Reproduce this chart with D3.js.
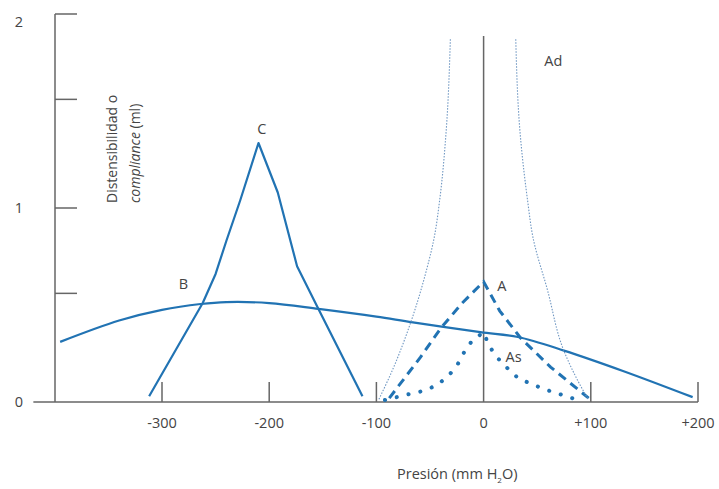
<!DOCTYPE html>
<html>
<head>
<meta charset="utf-8">
<script src="https://cdn.jsdelivr.net/npm/d3@7"></script>
<style>
  body { margin: 0; background: #fff; }
  text { font-family: "Open Sans", sans-serif; fill: #444; }
</style>
</head>
<body>
<svg id="chart"></svg>
<script>
const WIDTH = 719;
const HEIGHT = 489;
const BLUE = "#2173b3";

const xTicks = [-300, -200, -100, 0, 100, 200];
const xTickLabels = ["-300", "-200", "-100", "0", "+100", "+200"];
const yTicks = [0, 0.56, 1, 1.56, 2];
const yTickLabels = ["0", "", "1", "", "2"];

// curve B: broad solid curve
const curveB = [
  [-395, 0.31], [-340, 0.42], [-300, 0.475], [-264, 0.505], [-240, 0.515],
  [-200, 0.51], [-154, 0.48], [-100, 0.44], [-66, 0.41], [-3, 0.36],
  [32, 0.335], [75, 0.265], [130, 0.16], [195, 0.025],
];
// curve C: sharp peak
const curveC = [
  [-312, 0.03], [-262, 0.51], [-250, 0.66], [-240, 0.83], [-227, 1.04],
  [-210, 1.335], [-192, 1.08], [-174, 0.7], [-155, 0.49], [-113, 0.03],
];
// curve A: dashed
const curveA = [
  [-88, 0.02], [-59, 0.23], [-40, 0.38], [-20, 0.51], [0, 0.62],
  [15, 0.47], [34.5, 0.33], [62.5, 0.18], [98, 0.02],
];
// curve As: dotted
const curveAs = [
  [-92, 0.01], [-70, 0.04], [-56, 0.057], [-43, 0.088], [-32, 0.14],
  [-24, 0.196], [-18, 0.258], [-11, 0.314], [0, 0.36], [5, 0.29],
  [13, 0.227], [23, 0.17], [33, 0.119], [45, 0.093], [56, 0.067],
  [68, 0.046], [79, 0.026], [91, 0.005],
];
// curve Ad: thin dotted, two branches (top to bottom)
const curveAdLeft = [
  [-31, 1.87], [-35, 1.39], [-41, 1.04], [-46, 0.85], [-54, 0.665],
  [-68, 0.41], [-85, 0.165], [-98, 0.01],
];
const curveAdRight = [
  [30, 1.87], [34, 1.39], [41, 1.04], [46, 0.85], [59.6, 0.577],
  [74.6, 0.268], [90, 0.088], [98, 0.01],
];

const curveLabels = ["B", "C", "A", "As", "Ad"];
const curveLabelAt = [[-280, 0.61], [-207, 1.41], [17, 0.6], [28, 0.23], [65, 1.76]];

const svg = d3.select("#chart").attr("width", WIDTH).attr("height", HEIGHT);

const x = d3.scaleLinear().domain([-300, 200]).range([162, 698]);
const y = d3.scaleLinear().domain([0, 2]).range([402, 14]);

const axisColor = "#666";

/* axes */
svg.append("line")
  .attr("x1", x(-420)).attr("x2", x(200))
  .attr("y1", y(0)).attr("y2", y(0))
  .attr("stroke", axisColor).attr("stroke-width", 1.5);
svg.append("line")
  .attr("x1", 55).attr("x2", 55)
  .attr("y1", y(2)).attr("y2", y(0))
  .attr("stroke", axisColor).attr("stroke-width", 1.5);
// vertical line at zero pressure
svg.append("line")
  .attr("x1", x(0)).attr("x2", x(0))
  .attr("y1", 36).attr("y2", y(0))
  .attr("stroke", axisColor).attr("stroke-width", 1.5);

svg.selectAll(".xtick")
  .data(xTicks.filter((d) => d !== 0))
  .enter().append("line")
  .attr("x1", (d) => x(d)).attr("x2", (d) => x(d))
  .attr("y1", y(0)).attr("y2", y(0) - 20)
  .attr("stroke", axisColor).attr("stroke-width", 1.5);

svg.selectAll(".xlabel")
  .data(xTicks)
  .enter().append("text")
  .attr("x", (d) => x(d))
  .attr("y", 428)
  .attr("text-anchor", "middle")
  .attr("font-size", 14.5)
  .text((d, i) => xTickLabels[i]);

svg.selectAll(".ytick")
  .data(yTicks.filter((d) => d !== 0))
  .enter().append("line")
  .attr("x1", 55).attr("x2", 77)
  .attr("y1", (d) => y(d)).attr("y2", (d) => y(d))
  .attr("stroke", axisColor).attr("stroke-width", 1.5);

svg.selectAll(".ylabel")
  .data(yTicks)
  .enter().append("text")
  .attr("x", 19)
  .attr("y", (d) => Math.max(y(d), 22))
  .attr("dy", "0.35em")
  .attr("text-anchor", "middle")
  .attr("font-size", 14.5)
  .text((d, i) => yTickLabels[i]);

/* axis titles */
const xt = svg.append("text")
  .attr("x", 397).attr("y", 479)
  .attr("font-size", 14.5);
xt.append("tspan").text("Presión (mm H");
xt.append("tspan").attr("font-size", 8).attr("dy", 4).text("2");
xt.append("tspan").attr("dy", -4).text("O)");

const yt = svg.append("g").attr("transform", "translate(117,203) rotate(-90)");
yt.append("text").attr("font-size", 14).text("Distensibilidad o");
const yt2 = yt.append("text").attr("y", 23).attr("font-size", 14);
yt2.append("tspan").attr("font-style", "italic").text("compliance");
yt2.append("tspan").text(" (ml)");

/* curves */
const smooth = d3.line().x((d) => x(d[0])).y((d) => y(d[1])).curve(d3.curveCatmullRom.alpha(0.5));
const straight = d3.line().x((d) => x(d[0])).y((d) => y(d[1]));
const vertical = d3.line().x((d) => x(d[0])).y((d) => y(d[1])).curve(d3.curveMonotoneY);

svg.append("path").attr("d", smooth(curveB))
  .attr("fill", "none").attr("stroke", BLUE).attr("stroke-width", 2.2);
svg.append("path").attr("d", straight(curveC))
  .attr("fill", "none").attr("stroke", BLUE).attr("stroke-width", 2.2)
  .attr("stroke-linejoin", "round");
svg.append("path").attr("d", straight(curveA))
  .attr("fill", "none").attr("stroke", BLUE).attr("stroke-width", 3)
  .attr("stroke-dasharray", "9,6");
svg.append("path").attr("d", straight(curveAs))
  .attr("fill", "none").attr("stroke", BLUE).attr("stroke-width", 4)
  .attr("stroke-linecap", "round").attr("stroke-dasharray", "0.1,12");
[curveAdLeft, curveAdRight].forEach((c) => {
  svg.append("path").attr("d", vertical(c))
    .attr("fill", "none").attr("stroke", "#6f97c2").attr("stroke-width", 1.1)
    .attr("stroke-dasharray", "1.5,1.5");
});

/* curve labels */
svg.selectAll(".clabel")
  .data(curveLabels)
  .enter().append("text")
  .attr("x", (d, i) => x(curveLabelAt[i][0]))
  .attr("y", (d, i) => y(curveLabelAt[i][1]))
  .attr("dy", "0.35em")
  .attr("text-anchor", "middle")
  .attr("font-size", 14.5)
  .text((d) => d);
</script>
</body>
</html>
